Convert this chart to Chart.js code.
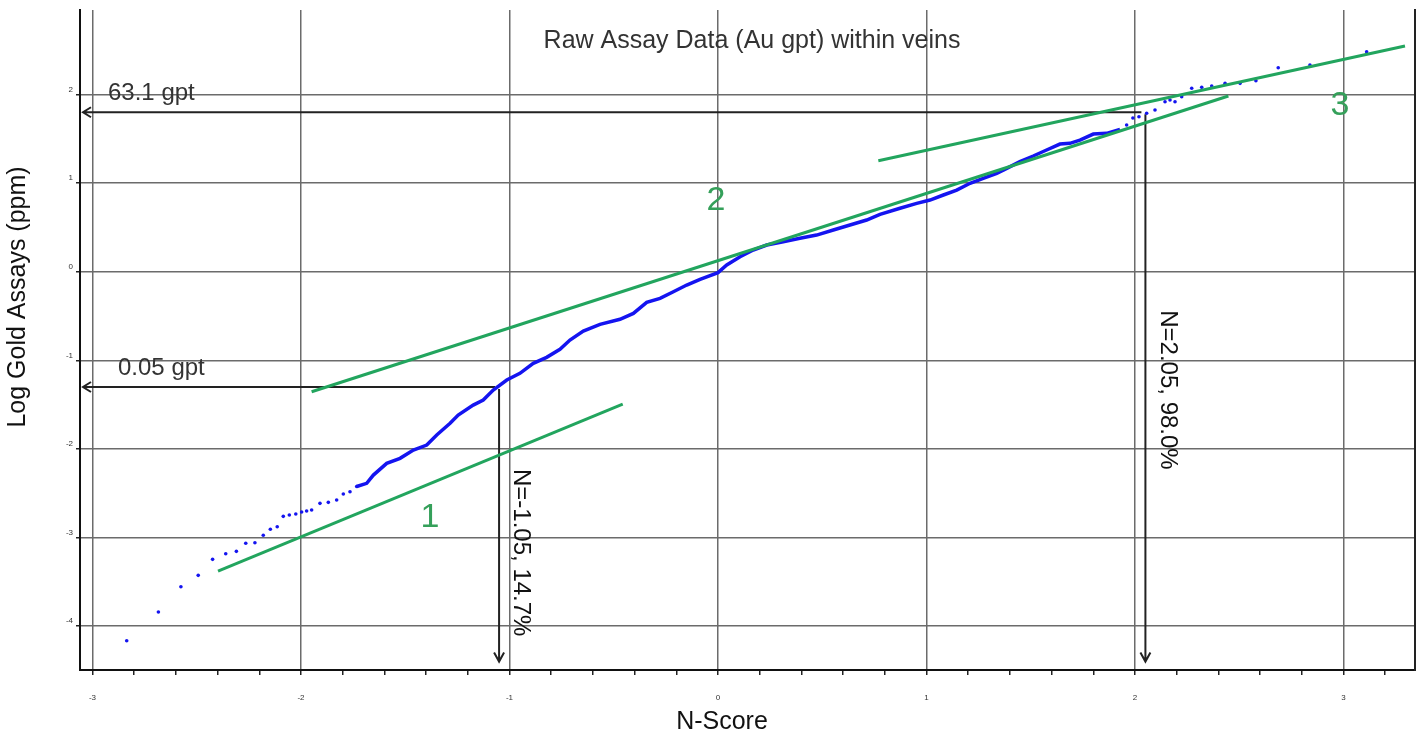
<!DOCTYPE html>
<html>
<head>
<meta charset="utf-8">
<title>Raw Assay Data (Au gpt) within veins</title>
<script src="https://cdn.jsdelivr.net/npm/chart.js@4.4.1/dist/chart.umd.min.js"></script>
<style>
    html, body { margin: 0; padding: 0; background: #fff; }
    #chart-wrap { width: 1424px; height: 740px; position: relative; }
</style>
</head>
<body>
<div id="chart-wrap"><canvas id="nscore-chart"></canvas></div>
<script>
// N-score vs log10(Au ppm)
const lowTailX = [-2.836, -2.684, -2.576, -2.493, -2.424, -2.361, -2.310, -2.265, -2.221, -2.181, -2.147, -2.114,
    -2.085, -2.056, -2.025, -1.997, -1.973, -1.949, -1.909, -1.869, -1.829, -1.797, -1.765, -1.733];
const lowTailY = [-4.165, -3.841, -3.555, -3.427, -3.246, -3.183, -3.156, -3.065, -3.059, -2.975, -2.907, -2.878,
    -2.761, -2.746, -2.735, -2.712, -2.701, -2.690, -2.614, -2.603, -2.577, -2.509, -2.483, -2.424];

const bodyX = [-1.733, -1.685, -1.653, -1.589, -1.525, -1.461, -1.397, -1.349, -1.285, -1.246, -1.174, -1.126,
    -1.078, -1.013, -0.950, -0.886, -0.822, -0.758, -0.710, -0.646, -0.566, -0.470, -0.406, -0.342, -0.278, -0.214,
    -0.150, -0.086, 0.000, 0.042, 0.106, 0.169, 0.234, 0.313, 0.393, 0.473, 0.553, 0.633, 0.713, 0.777, 0.873,
    0.953, 1.017, 1.081, 1.145, 1.209, 1.272, 1.337, 1.385, 1.448, 1.512, 1.576, 1.640, 1.688, 1.736, 1.800,
    1.864, 1.928];
const bodyY = [-2.424, -2.388, -2.295, -2.163, -2.106, -2.012, -1.956, -1.843, -1.711, -1.617, -1.505, -1.448,
    -1.335, -1.222, -1.147, -1.034, -0.966, -0.876, -0.771, -0.669, -0.594, -0.537, -0.470, -0.345, -0.300, -0.226,
    -0.150, -0.086, -0.010, 0.076, 0.169, 0.245, 0.301, 0.339, 0.377, 0.414, 0.471, 0.527, 0.584, 0.648, 0.716,
    0.772, 0.809, 0.866, 0.922, 0.998, 1.054, 1.111, 1.167, 1.242, 1.306, 1.374, 1.441, 1.449, 1.486, 1.554,
    1.562, 1.607];

const highTailX = [1.960, 1.990, 2.019, 2.056, 2.096, 2.144, 2.168, 2.192, 2.224, 2.272, 2.320, 2.368, 2.432,
    2.504, 2.580, 2.687, 2.839, 3.111];
const highTailY = [1.656, 1.735, 1.749, 1.788, 1.825, 1.919, 1.938, 1.919, 1.975, 2.070, 2.081, 2.096, 2.126,
    2.126, 2.156, 2.302, 2.333, 2.483];

// straight-line populations 1, 2, 3 (end points)
const fit1X = [-2.398, -0.457];
const fit1Y = [-3.378, -1.493];
const fit2X = [-1.949, 2.448];
const fit2Y = [-1.354, 1.983];
const fit3X = [0.769, 3.295];
const fit3Y = [1.253, 2.547];
const fitNames = ['1', '2', '3'];

// cut-offs: log grade and N-score
const cutoffGradeLabels = ['63.1 gpt', '0.05 gpt'];
const cutoffLogGrade = [1.8, -1.301];
const cutoffNScore = [2.05, -1.05];
const cutoffNLabels = ['N=2.05, 98.0%', 'N=-1.05, 14.7%'];

const xTickValues = [-3, -2.8, -2.6, -2.4, -2.2, -2, -1.8, -1.6, -1.4, -1.2, -1, -0.8, -0.6, -0.4, -0.2, 0,
    0.2, 0.4, 0.6, 0.8, 1, 1.2, 1.4, 1.6, 1.8, 2, 2.2, 2.4, 2.6, 2.8, 3, 3.2];
const yTickValues = [-4, -3, -2, -1, 0, 1, 2];

const X_MIN = -3.06, X_MAX = 3.343;
const Y_MIN = -4.495, Y_MAX = 2.954;
const ARROW_END_Y = -4.4;

const FONT = "'Liberation Sans', Arial, sans-serif";
const GREEN = '#22a55e';
const BLUE = '#1414f0';

function toPoints(xs, ys) {
    return xs.map((x, i) => ({ x: x, y: ys[i] }));
}

function isMajor(v) {
    return Math.abs(v - Math.round(v)) < 1e-6;
}

// arrows + free text drawn on top of the scales
const notesPlugin = {
    id: 'nscoreNotes',
    beforeDatasetsDraw(chart) {
        const { ctx, chartArea, scales } = chart;
        const xs = scales.x, ys = scales.y;
        ctx.save();
        ctx.strokeStyle = '#222';
        ctx.lineWidth = 2;
        cutoffLogGrade.forEach((g, i) => {
            const py = ys.getPixelForValue(g);
            const px = xs.getPixelForValue(cutoffNScore[i]);
            const tipX = chartArea.left + 3;
            const tipY = ys.getPixelForValue(ARROW_END_Y);
            // horizontal arrow to the grade axis
            ctx.beginPath();
            ctx.moveTo(px - 4, py);
            ctx.lineTo(tipX, py);
            ctx.moveTo(tipX + 8, py - 5);
            ctx.lineTo(tipX, py);
            ctx.lineTo(tipX + 8, py + 5);
            ctx.stroke();
            // vertical arrow down to the N-score axis
            ctx.beginPath();
            ctx.moveTo(px, py + 2);
            ctx.lineTo(px, tipY);
            ctx.moveTo(px - 5, tipY - 9);
            ctx.lineTo(px, tipY);
            ctx.lineTo(px + 5, tipY - 9);
            ctx.stroke();
        });
        ctx.restore();
    },
    afterDraw(chart) {
        const { ctx, chartArea, scales } = chart;
        const xs = scales.x, ys = scales.y;
        ctx.save();

        ctx.fillStyle = '#333';
        ctx.font = '25px ' + FONT;
        ctx.textAlign = 'center';
        ctx.textBaseline = 'middle';
        ctx.fillText('Raw Assay Data (Au gpt) within veins', 752, 41);

        ctx.fillStyle = '#111';
        ctx.fillText('N-Score', 722, 722);
        ctx.save();
        ctx.translate(18, 297);
        ctx.rotate(-Math.PI / 2);
        ctx.fillText('Log Gold Assays (ppm)', 0, 0);
        ctx.restore();

        // grade labels above the horizontal arrows
        const gradeLabelLeft = [28, 38];
        ctx.fillStyle = '#333';
        ctx.font = '24px ' + FONT;
        ctx.textAlign = 'left';
        cutoffGradeLabels.forEach((t, i) => {
            const py = ys.getPixelForValue(cutoffLogGrade[i]);
            ctx.fillText(t, chartArea.left + gradeLabelLeft[i], py - 19);
        });

        // N-score labels beside the vertical arrows, reading downward
        const nLabelDrop = [198, 82];
        ctx.fillStyle = '#111';
        cutoffNLabels.forEach((t, i) => {
            const px = xs.getPixelForValue(cutoffNScore[i]);
            const py = ys.getPixelForValue(cutoffLogGrade[i]);
            ctx.save();
            ctx.translate(px + 22, py + nLabelDrop[i]);
            ctx.rotate(Math.PI / 2);
            ctx.textAlign = 'left';
            ctx.fillText(t, 0, 0);
            ctx.restore();
        });

        // population numbers
        const fitLabelAt = [[-1.381, -2.77], [-0.01, 0.80], [2.983, 1.87]];
        ctx.fillStyle = '#35a05a';
        ctx.font = '34px ' + FONT;
        ctx.textAlign = 'center';
        fitNames.forEach((t, i) => {
            ctx.fillText(t, xs.getPixelForValue(fitLabelAt[i][0]), ys.getPixelForValue(fitLabelAt[i][1]));
        });
        ctx.restore();
    }
};

function plotNScoreChart() {
    const ctx = document.getElementById('nscore-chart').getContext('2d');

    const fitStyle = {
        type: 'line',
        borderColor: GREEN,
        borderWidth: 3,
        pointRadius: 0,
        showLine: true,
        fill: false,
        tension: 0
    };

    new Chart(ctx, {
        type: 'scatter',
        data: {
            datasets: [
                Object.assign({ label: 'Population 1', data: toPoints(fit1X, fit1Y) }, fitStyle),
                Object.assign({ label: 'Population 2', data: toPoints(fit2X, fit2Y) }, fitStyle),
                Object.assign({ label: 'Population 3', data: toPoints(fit3X, fit3Y) }, fitStyle),
                {
                    label: 'Assays',
                    type: 'line',
                    data: toPoints(bodyX, bodyY),
                    borderColor: BLUE,
                    borderWidth: 3.5,
                    pointRadius: 0,
                    showLine: true,
                    fill: false,
                    tension: 0
                },
                {
                    label: 'Assays (low tail)',
                    data: toPoints(lowTailX, lowTailY),
                    backgroundColor: BLUE,
                    borderWidth: 0,
                    pointRadius: 1.8
                },
                {
                    label: 'Assays (high tail)',
                    data: toPoints(highTailX, highTailY),
                    backgroundColor: BLUE,
                    borderWidth: 0,
                    pointRadius: 1.8
                }
            ]
        },
        options: {
            responsive: true,
            maintainAspectRatio: false,
            animation: false,
            devicePixelRatio: 1,
            layout: {
                padding: { top: 10, right: 9, left: 0, bottom: 0 }
            },
            scales: {
                x: {
                    type: 'linear',
                    min: X_MIN,
                    max: X_MAX,
                    afterBuildTicks: (scale) => {
                        scale.ticks = xTickValues.map(v => ({ value: v }));
                    },
                    afterFit: (scale) => { scale.height = 70; },
                    ticks: {
                        autoSkip: false,
                        maxRotation: 0,
                        padding: 18,
                        color: '#333',
                        font: { size: 8, family: FONT },
                        callback: (value) => isMajor(value) ? String(Math.round(value)) : ''
                    },
                    grid: {
                        color: (c) => (c.tick && isMajor(c.tick.value)) ? '#6b6b6b' : 'rgba(0,0,0,0)',
                        lineWidth: 1.5,
                        tickColor: '#222',
                        tickLength: 5
                    },
                    border: { display: true, color: '#111', width: 2 }
                },
                y: {
                    type: 'linear',
                    min: Y_MIN,
                    max: Y_MAX,
                    afterBuildTicks: (scale) => {
                        scale.ticks = yTickValues.map(v => ({ value: v }));
                    },
                    afterFit: (scale) => { scale.width = 80; },
                    ticks: {
                        padding: 3,
                        labelOffset: -5,
                        color: '#333',
                        font: { size: 8, family: FONT }
                    },
                    grid: {
                        color: '#6b6b6b',
                        lineWidth: 1.5,
                        tickColor: '#222',
                        tickLength: 4
                    },
                    border: { display: true, color: '#111', width: 2 }
                },
                y2: {
                    type: 'linear',
                    position: 'right',
                    min: Y_MIN,
                    max: Y_MAX,
                    afterFit: (scale) => { scale.width = 0; },
                    ticks: { display: false },
                    grid: { display: false, drawTicks: false },
                    border: { display: true, color: '#222', width: 2 }
                }
            },
            plugins: {
                legend: { display: false },
                tooltip: { enabled: false },
                title: { display: false }
            }
        },
        plugins: [notesPlugin]
    });
}

plotNScoreChart();
</script>
</body>
</html>
